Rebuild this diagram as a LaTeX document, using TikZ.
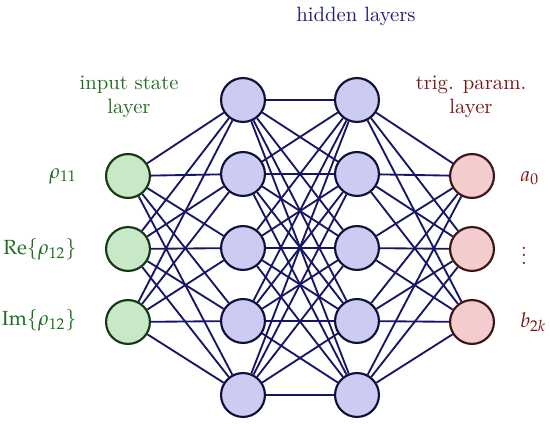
\documentclass[tikz,border=0pt]{standalone}
\usepackage{mathpazo}
\usepackage{tikz}
\usetikzlibrary{positioning, backgrounds}
\usepackage{xcolor}
\definecolor{ingreen}   {RGB}{ 30, 110,  30}
\definecolor{infill}    {RGB}{200, 232, 200}
\definecolor{indraw}    {RGB}{ 20,  55,  20}
\definecolor{hidblue}   {RGB}{ 30,  30, 120}
\definecolor{hidfill}   {RGB}{204, 204, 242}
\definecolor{hiddraw}   {RGB}{ 15,  15,  60}
\definecolor{edgeblue}  {RGB}{ 22,  22, 105}
\definecolor{outred}    {RGB}{125,  20,  20}
\definecolor{outfill}   {RGB}{243, 205, 205}
\definecolor{outdraw}   {RGB}{ 60,  20,  20}
\tikzset{
  neuron/.style={
    circle, draw=#1draw, fill=#1fill, line width=1.1pt,
    minimum size=0.79cm, inner sep=0pt
  },
  conn/.style={draw=edgeblue, line width=0.95pt},
  lbl/.style={font=\fontsize{10.5}{13}\selectfont, text=#1, inner sep=0pt},
  layertitle/.style={align=center, font=\fontsize{10.6}{12.5}\selectfont,
    text=#1, inner sep=0pt}
}

\begin{document}
\begin{tikzpicture}[x=0.018cm, y=-0.018cm]
\useasboundingbox (0,0) rectangle (550,424);

% -- neurons -------------------------------------------------------------
\foreach \i/\y in {1/176, 2/249, 3/322}
  \node[neuron=in] (in\i) at (128,\y) {};
\foreach \i/\y in {1/100, 2/174, 3/248, 4/321, 5/395} {
  \node[neuron=hid] (ha\i) at (243,\y) {};
  \node[neuron=hid] (hb\i) at (357,\y) {};
}
\foreach \i/\y in {1/176, 2/249, 3/322}
  \node[neuron=out] (out\i) at (472,\y) {};

% -- connections (behind the neurons) -------------------------------------
\begin{scope}[on background layer]
\foreach \i in {1,2,3}
  \foreach \j in {1,...,5}
    \path[conn] (in\i) -- (ha\j);
\foreach \i in {1,...,5}
  \foreach \j in {1,...,5}
    \path[conn] (ha\i) -- (hb\j);
\foreach \i in {1,...,5}
  \foreach \j in {1,2,3}
    \path[conn] (hb\i) -- (out\j);
\end{scope}

% -- labels ---------------------------------------------------------------
\node[lbl=ingreen, anchor=east] (lin1) at (77,176) {$\rho_{11}$};
\node[lbl=ingreen, anchor=east] (lin2) at (77,249) {$\mathrm{Re}\{\rho_{12}\}$};
\node[lbl=ingreen, anchor=east] (lin3) at (77,320) {$\mathrm{Im}\{\rho_{12}\}$};
\node[lbl=outred, anchor=west] (lout1) at (520,178) {$a_0$};
\node[lbl=outred] (lout2) at (524,250) {$\vdots$};
\node[lbl=outred, anchor=west] (lout3) at (520,322) {$b_{2k}$};

\node[layertitle=ingreen] (tin) at (129,97) {input state\\layer};
\node[layertitle=hidblue] (thid) at (356,16) {hidden layers};
\node[layertitle=outred] (tout) at (471,97) {trig. param.\\layer};

\end{tikzpicture}
\end{document}
